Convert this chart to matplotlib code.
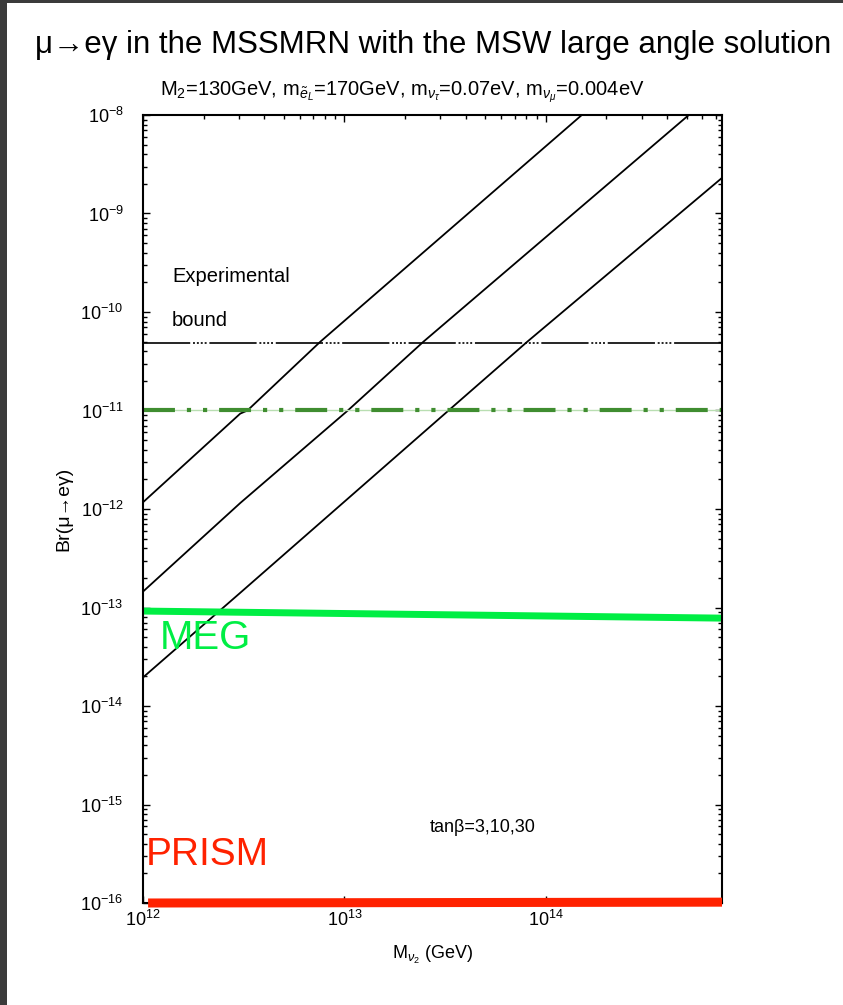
import numpy as np
import matplotlib
matplotlib.use("Agg")
import matplotlib.pyplot as plt
from matplotlib import font_manager
from matplotlib.ticker import FixedLocator, LogLocator, FuncFormatter, NullFormatter
from matplotlib.patches import Rectangle


def have_font(name):
    try:
        font_manager.findfont(font_manager.FontProperties(family=name),
                              fallback_to_default=False)
        return True
    except Exception:
        return False


narrow = "Liberation Sans Narrow" if have_font("Liberation Sans Narrow") else "Liberation Sans"

plt.rcParams["font.family"] = ["Liberation Sans", "DejaVu Sans"]
plt.rcParams["mathtext.fontset"] = "custom"
plt.rcParams["mathtext.rm"] = "Liberation Sans"
plt.rcParams["mathtext.it"] = "Liberation Sans:italic"
plt.rcParams["mathtext.bf"] = "Liberation Sans:bold"
plt.rcParams["lines.scale_dashes"] = False

# --- data ---
# three tan(beta) curves (30, 10, 3 from top to bottom)
tb30_x = [1.0e12, 3.04e12, 3.3e12, 7.6e12, 1.51e14]
tb30_y = [1.17e-12, 9.3e-12, 1.0e-11, 5.0e-11, 1.0e-8]
tb10_x = [1.0e12, 3.04e12, 1.04e13, 2.47e13, 5.13e14]
tb10_y = [1.45e-13, 1.15e-12, 1.0e-11, 5.0e-11, 1.0e-8]
tb3_x = [1.0e12, 3.04e12, 3.29e13, 8.1e13, 7.5e14]
tb3_y = [1.95e-14, 1.41e-13, 1.0e-11, 5.0e-11, 2.3e-9]

x_range = [1.0e12, 7.5e14]
exp_bound = 4.9e-11
mega_bound = 1.0e-11
meg_y = [9.2e-14, 7.8e-14]
prism_x = [1.06e12, 7.5e14]
prism_y = [1.0e-16, 1.02e-16]

x_ticks = [1e12, 1e13, 1e14]
y_ticks = [1e-16, 1e-15, 1e-14, 1e-13, 1e-12, 1e-11, 1e-10, 1e-9, 1e-8]

W, H = 843, 1005
fig = plt.figure(figsize=(W / 100, H / 100), dpi=100, facecolor="#3b3b3b")
fig.add_artist(Rectangle((7 / W, 0), 1, 1 - 3 / H, transform=fig.transFigure,
                         facecolor="white", edgecolor="none", zorder=-5))


def fx(x):
    return x / W


def fy(y):
    return 1 - y / H


ax = fig.add_axes([143 / W, 1 - 903 / H, 579 / W, 788 / H])
ax.set_xscale("log")
ax.set_yscale("log")
ax.set_xlim(1e12, 7.5e14)
ax.set_ylim(1e-16, 1e-8)

for xs, ys in [(tb30_x, tb30_y), (tb10_x, tb10_y), (tb3_x, tb3_y)]:
    ax.plot(xs, ys, color="black", lw=1.3)

# experimental bound
ax.plot(x_range, [exp_bound, exp_bound], color="black", lw=1.2,
        linestyle=(0, (34, 2, 1.4, 1.4, 1.4, 1.4, 1.4, 1.4, 1.4, 2)))
# dash-dot green line
ax.plot(x_range, [mega_bound, mega_bound], color="#b9deb2", lw=1.0)
ax.plot(x_range, [mega_bound, mega_bound], color="#3f8d30", lw=3.0,
        linestyle=(0, (23, 8.6, 3, 8.6, 3, 8.6)))
# MEG and PRISM
ax.plot(x_range, meg_y, color="#00ee44", lw=5, solid_capstyle="butt", clip_on=False)
ax.plot(prism_x, prism_y, color="#ff2200", lw=6.5, solid_capstyle="butt",
        clip_on=False, zorder=5)

# ticks
ax.xaxis.set_major_locator(FixedLocator(x_ticks))
ax.xaxis.set_minor_locator(LogLocator(base=10, subs=np.arange(2, 10), numticks=20))
ax.yaxis.set_major_locator(FixedLocator(y_ticks))
ax.yaxis.set_minor_locator(LogLocator(base=10, subs=np.arange(2, 10), numticks=20))
fmt = FuncFormatter(lambda v, p: r"$\mathregular{10^{%d}}$" % round(np.log10(v)))
ax.xaxis.set_major_formatter(fmt)
ax.yaxis.set_major_formatter(fmt)
ax.xaxis.set_minor_formatter(NullFormatter())
ax.yaxis.set_minor_formatter(NullFormatter())
ax.tick_params(which="both", direction="in", top=True, right=True, width=1.0,
               labelsize=13)
ax.tick_params(which="major", length=5)
ax.tick_params(which="minor", length=3)
ax.tick_params(axis="y", pad=14)
ax.tick_params(axis="x", pad=5)
for s in ax.spines.values():
    s.set_linewidth(1.5)

ax.set_ylabel("Br(μ→eγ)", fontsize=14)
ax.yaxis.set_label_coords(-0.122, 0.5)
ax.set_xlabel(r"M$_{\nu_2}$ (GeV)", fontsize=13, labelpad=10)

# texts
fig.text(fx(35), fy(45), "μ→eγ in the MSSMRN with the MSW large angle solution",
         fontsize=22.5, family=[narrow, "DejaVu Sans"], va="center", ha="left")
fig.text(fx(160), fy(92),
         r"M$_2$=130GeV, m$_{\tilde{e}_L}$=170GeV, m$_{\nu_\tau}$=0.07eV, m$_{\nu_\mu}$=0.004eV",
         fontsize=14.5, va="center", ha="left")
fig.text(fx(172), fy(277), "Experimental", fontsize=14.5, va="center", ha="left")
fig.text(fx(172), fy(320), "bound", fontsize=14.5, va="center", ha="left")
fig.text(fx(430), fy(828), "tanβ=3,10,30", fontsize=13, va="center", ha="left")
fig.text(fx(160), fy(638), "MEG", fontsize=29, color="#00ee44",
         family=[narrow, "DejaVu Sans"], va="center", ha="left")
fig.text(fx(146), fy(855), "PRISM", fontsize=28, color="#ff2200",
         family=[narrow, "DejaVu Sans"], va="center", ha="left")

fig.savefig("out.png", dpi=100, facecolor=fig.get_facecolor())
